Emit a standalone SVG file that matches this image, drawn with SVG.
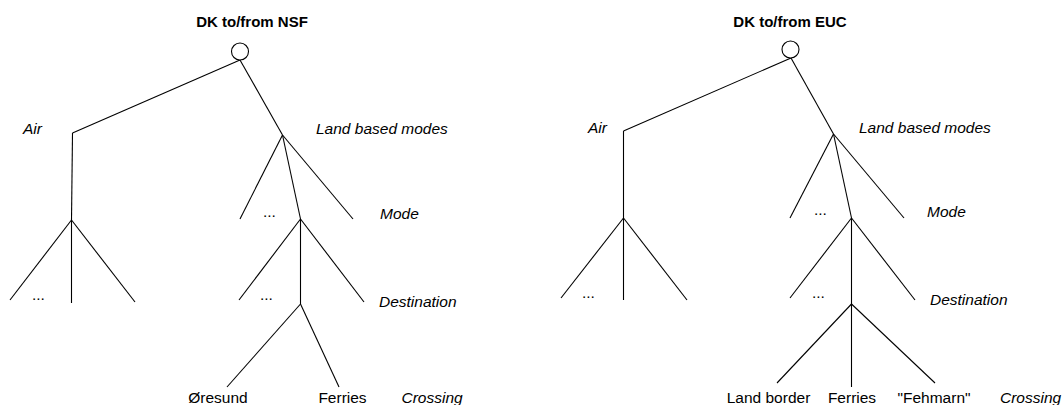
<svg xmlns="http://www.w3.org/2000/svg" width="1062" height="405" viewBox="0 0 1062 405">
<style>
.t{font-family:"Liberation Sans",Arial,sans-serif;font-size:15.5px;fill:#000}
.i{font-style:italic}
.b{font-weight:bold;font-size:15px}
.c line,.c polyline{stroke:#000;stroke-width:1.1;fill:none}
.r{fill:#fff;stroke:#000;stroke-width:1.1}
</style>
<rect width="1062" height="405" fill="#fff"/>
<g class="c" id="connectors">
<line x1="240" y1="60" x2="72.5" y2="133"/>
<line x1="72.5" y1="133" x2="71.5" y2="220"/>
<line x1="71.5" y1="220" x2="10" y2="300"/>
<line x1="71.5" y1="220" x2="71.5" y2="303"/>
<line x1="71.5" y1="220" x2="135" y2="302"/>
<line x1="240" y1="60" x2="282.5" y2="135"/>
<line x1="282.5" y1="135" x2="240" y2="219"/>
<line x1="282.5" y1="135" x2="300.5" y2="219"/>
<line x1="282.5" y1="135" x2="353" y2="219"/>
<line x1="300.5" y1="219" x2="239" y2="300"/>
<line x1="300.5" y1="219" x2="300.5" y2="304"/>
<line x1="300.5" y1="219" x2="364" y2="302"/>
<line x1="300.5" y1="304" x2="227" y2="387"/>
<line x1="300.5" y1="304" x2="339" y2="387"/>
<line x1="791" y1="58" x2="623.5" y2="131"/>
<line x1="623.5" y1="131" x2="623.5" y2="218"/>
<line x1="623.5" y1="218" x2="561" y2="298"/>
<line x1="623.5" y1="218" x2="623.5" y2="300"/>
<line x1="623.5" y1="218" x2="687" y2="300"/>
<line x1="791" y1="58" x2="833.5" y2="134"/>
<line x1="833.5" y1="134" x2="790" y2="218"/>
<line x1="833.5" y1="134" x2="851.5" y2="218"/>
<line x1="833.5" y1="134" x2="904" y2="218"/>
<line x1="851.5" y1="218" x2="790" y2="298"/>
<line x1="851.5" y1="218" x2="851.5" y2="304"/>
<line x1="851.5" y1="218" x2="915" y2="300"/>
<line x1="851.5" y1="304" x2="777" y2="383"/>
<line x1="851.5" y1="304" x2="851.5" y2="387"/>
<line x1="851.5" y1="304" x2="935" y2="383"/>
</g>
<g id="root-nsf">
<text class="t b" x="252" y="27" text-anchor="middle">DK to/from NSF</text>
<circle class="r" cx="240" cy="51.5" r="8.5"/>
</g>
<g id="air-nsf"><text class="t i" x="23" y="134">Air</text></g>
<g id="air-nsf-leaves"><text class="t" x="32" y="300">...</text></g>
<g id="land-nsf"><text class="t i" x="316" y="134">Land based modes</text></g>
<g id="mode-nsf"><text class="t i" x="380" y="219">Mode</text><text class="t" x="263" y="217">...</text></g>
<g id="dest-nsf"><text class="t i" x="379" y="307">Destination</text><text class="t" x="260" y="300">...</text></g>
<g id="crossing-nsf">
<text class="t" x="218" y="403" text-anchor="middle">Øresund</text>
<text class="t" x="342.5" y="403" text-anchor="middle">Ferries</text>
<text class="t i" x="401.5" y="403">Crossing</text>
</g>
<g id="root-euc">
<text class="t b" x="790" y="27" text-anchor="middle">DK to/from EUC</text>
<circle class="r" cx="790.5" cy="49.5" r="8.5"/>
</g>
<g id="air-euc"><text class="t i" x="588" y="133">Air</text></g>
<g id="air-euc-leaves"><text class="t" x="582" y="298">...</text></g>
<g id="land-euc"><text class="t i" x="859" y="133">Land based modes</text></g>
<g id="mode-euc"><text class="t i" x="927" y="217">Mode</text><text class="t" x="814" y="215">...</text></g>
<g id="dest-euc"><text class="t i" x="930" y="305">Destination</text><text class="t" x="812" y="298">...</text></g>
<g id="crossing-euc">
<text class="t" x="768.5" y="403" text-anchor="middle">Land border</text>
<text class="t" x="852" y="403" text-anchor="middle">Ferries</text>
<text class="t" x="934" y="403" text-anchor="middle">"Fehmarn"</text>
<text class="t i" x="1000" y="403">Crossing</text>
</g>
</svg>
